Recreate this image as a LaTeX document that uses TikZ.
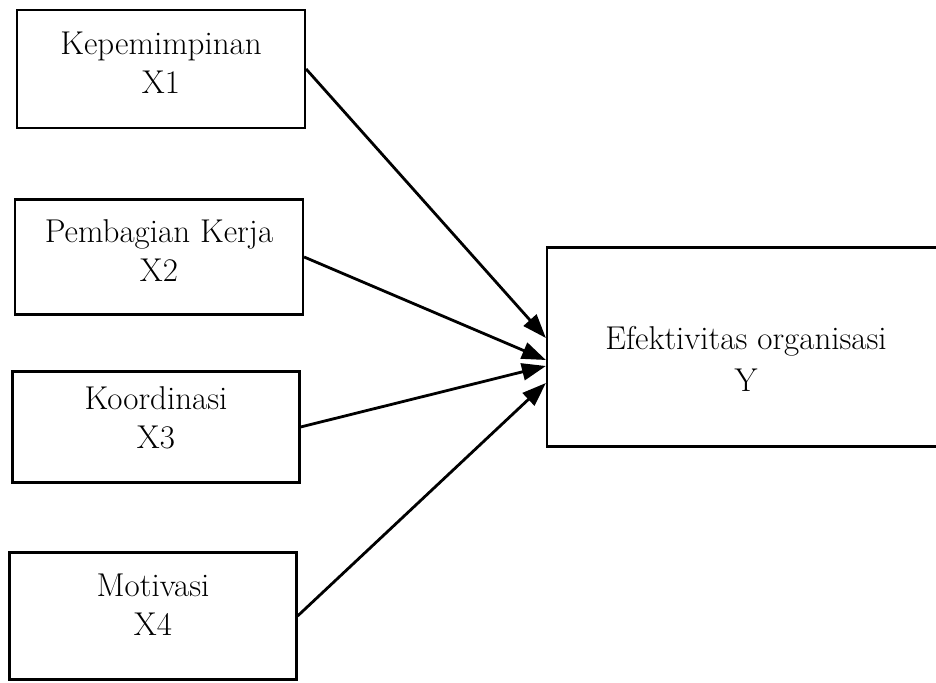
\documentclass[tikz,border=0pt]{standalone}
\usepackage{tikz}
\usetikzlibrary{arrows.meta, positioning, calc}

\tikzset{
  varbox/.style={draw, line width=2.2pt, minimum width=288pt, align=center,
    font=\fontsize{33}{39}\selectfont, text depth=12pt},
  pengaruh/.style={line width=2.8pt, -{Triangle[length=24pt, width=17pt]}}
}

\begin{document}
\begin{tikzpicture}[x=1pt, y=1pt]
  \clip (0,0) rectangle (936,682);
  % Variabel bebas
  \node[varbox, minimum height=118pt] (kepemimpinan) at (161,613) {Kepemimpinan\\X1};
  \node[varbox, minimum height=115pt] (pembagian) at (159,425) {Pembagian Kerja\\X2};
  \node[varbox, minimum height=111pt, minimum width=287pt, text depth=18pt] (koordinasi) at (156,255) {Koordinasi\\X3};
  \node[varbox, minimum height=127pt, minimum width=287pt, text depth=22pt] (motivasi) at (153,66) {Motivasi\\X4};
  % Variabel terikat (sisi kanan terpotong)
  \node[varbox, minimum width=398pt, minimum height=199pt, text depth=0pt,
    font=\fontsize{33}{42}\selectfont] (efektivitas) at (746,335) {\rule{0pt}{48pt}Efektivitas organisasi\\Y};
  % Panah pengaruh
  \draw[pengaruh] (kepemimpinan.east) -- ([yshift=9pt]efektivitas.west);
  \draw[pengaruh] (pembagian.east) -- ([yshift=-13pt]efektivitas.west);
  \draw[pengaruh] (koordinasi.east) -- ([yshift=-19pt]efektivitas.west);
  \draw[pengaruh] (motivasi.east) -- ([yshift=-36pt]efektivitas.west);
\end{tikzpicture}
\end{document}
